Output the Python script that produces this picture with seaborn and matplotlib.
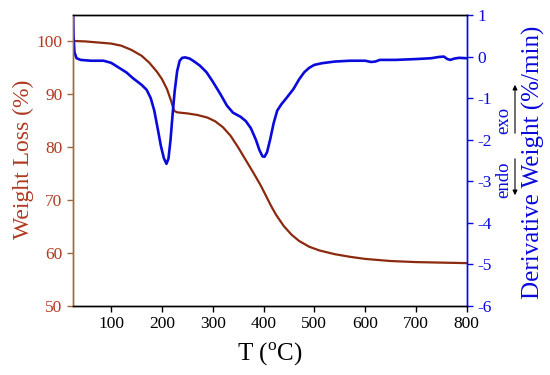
import numpy as np
import pandas as pd
import matplotlib
matplotlib.use("Agg")
import matplotlib.pyplot as plt
import seaborn as sns

# --- data ---
temp_w = [25, 50, 75, 100, 120, 140, 160, 175, 190, 200, 210, 218, 224, 230,
          250, 270, 290, 305, 320, 335, 350, 365, 380, 395, 405, 415, 425, 440,
          455, 470, 490, 510, 540, 570, 600, 650, 700, 750, 800]
weight = [100.1, 100.0, 99.8, 99.6, 99.2, 98.4, 97.3, 96.0, 94.3, 92.9, 91.0,
          88.8, 86.9, 86.6, 86.4, 86.1, 85.6, 84.9, 83.8, 82.2, 80.0, 77.6,
          75.2, 72.7, 70.8, 68.9, 67.2, 65.1, 63.5, 62.3, 61.2, 60.5, 59.8,
          59.3, 58.9, 58.5, 58.3, 58.2, 58.1]

temp_d = [25, 26, 28, 32, 40, 60, 85, 100, 117, 130, 143, 160, 170, 178, 185,
          192, 198, 204, 209, 213, 217, 221, 225, 230, 235, 240, 246, 255, 265,
          275, 288, 300, 315, 328, 340, 355, 365, 375, 385, 392, 398, 402, 407,
          413, 420, 427, 435, 445, 459, 470, 480, 490, 500, 515, 540, 570, 600,
          612, 620, 629, 660, 700, 730, 745, 755, 762, 768, 775, 785, 800]
deriv = [1.2, 0.5, 0.1, -0.04, -0.08, -0.1, -0.1, -0.15, -0.28, -0.38, -0.52,
         -0.68, -0.8, -1.0, -1.3, -1.75, -2.15, -2.45, -2.58, -2.45, -2.0,
         -1.4, -0.85, -0.35, -0.1, -0.03, -0.02, -0.05, -0.13, -0.22, -0.38,
         -0.6, -0.9, -1.18, -1.35, -1.45, -1.55, -1.72, -2.0, -2.25, -2.4,
         -2.41, -2.3, -2.0, -1.6, -1.3, -1.15, -1.0, -0.78, -0.55, -0.38,
         -0.27, -0.2, -0.16, -0.12, -0.1, -0.1, -0.13, -0.12, -0.08, -0.08,
         -0.06, -0.04, -0.01, 0.0, -0.06, -0.08, -0.05, -0.03, -0.04]

x_ticks = [100, 200, 300, 400, 500, 600, 700, 800]
y_left_ticks = [50, 60, 70, 80, 90, 100]
y_right_ticks = [1, 0, -1, -2, -3, -4, -5, -6]

df_w = pd.DataFrame({"T": temp_w, "W": weight})
df_d = pd.DataFrame({"T": temp_d, "D": deriv})

sns.set_style("ticks")
plt.rcParams["font.family"] = ["Liberation Serif", "DejaVu Serif"]
plt.rcParams["mathtext.fontset"] = "custom"
plt.rcParams["mathtext.rm"] = "Liberation Serif"
plt.rcParams["axes.unicode_minus"] = False

brown_line = "#8B2A0E"
brown_axis = "#9C6A3C"
brown_text = "#B03A24"
blue = "#0A0ADC"

fig = plt.figure(figsize=(5.5, 3.75), dpi=100)
ax = fig.add_axes([73 / 550, 1 - 306 / 375, (466.7 - 73) / 550, (306 - 15) / 375])
ax2 = ax.twinx()

sns.lineplot(data=df_w, x="T", y="W", ax=ax, color=brown_line, lw=1.6,
             sort=False, estimator=None)
sns.lineplot(data=df_d, x="T", y="D", ax=ax2, color=blue, lw=1.9,
             sort=False, estimator=None)

ax.set_xlim(25, 800)
ax.set_ylim(50, 105)
ax2.set_ylim(-6, 1)
ax.set_xticks(x_ticks)
ax.set_yticks(y_left_ticks)
ax2.set_yticks(y_right_ticks)

for a in (ax, ax2):
    for s in a.spines.values():
        s.set_linewidth(1.0)
    a.spines["top"].set_color("black")
    a.spines["bottom"].set_color("black")
    a.spines["left"].set_color(brown_axis)
    a.spines["right"].set_color(blue)
    a.spines["top"].set_visible(True)
    a.spines["right"].set_visible(True)

ax.tick_params(axis="x", colors="black", labelsize=12.5, length=4, width=1, direction="out")
ax.tick_params(axis="y", colors=brown_axis, labelcolor=brown_text, labelsize=12.5,
               length=4, width=1, direction="out")
ax2.tick_params(axis="y", colors=blue, labelcolor=blue, labelsize=12.5,
                length=4, width=1, direction="out")

ax.set_xlabel(r"T ($^{\mathrm{o}}$C)", fontsize=18, color="black")
ax.set_ylabel("Weight Loss (%)", fontsize=17, color=brown_text)
ax2.set_ylabel("Derivative Weight (%/min)", fontsize=18, color=blue)
ax.xaxis.set_label_coords(0.5, -0.12)
ax.yaxis.set_label_coords(-0.10, 0.505)
ax2.yaxis.set_label_coords(1.14, 0.495)

# endo / exo annotation
fig.text(504 / 550, 1 - 120 / 375, "exo", rotation=90, color=blue, fontsize=13.5,
         ha="center", va="center")
fig.text(504 / 550, 1 - 180 / 375, "endo", rotation=90, color=blue, fontsize=13.5,
         ha="center", va="center")
ax.annotate("", xy=(515 / 550, 1 - 82 / 375), xytext=(515 / 550, 1 - 136 / 375),
            xycoords="figure fraction", textcoords="figure fraction",
            arrowprops=dict(arrowstyle="-|>", color="black", lw=0.8,
                            mutation_scale=7), annotation_clip=False)
ax.annotate("", xy=(515 / 550, 1 - 198 / 375), xytext=(515 / 550, 1 - 156 / 375),
            xycoords="figure fraction", textcoords="figure fraction",
            arrowprops=dict(arrowstyle="-|>", color="black", lw=0.8,
                            mutation_scale=7), annotation_clip=False)

fig.savefig("out.png", dpi=100)
